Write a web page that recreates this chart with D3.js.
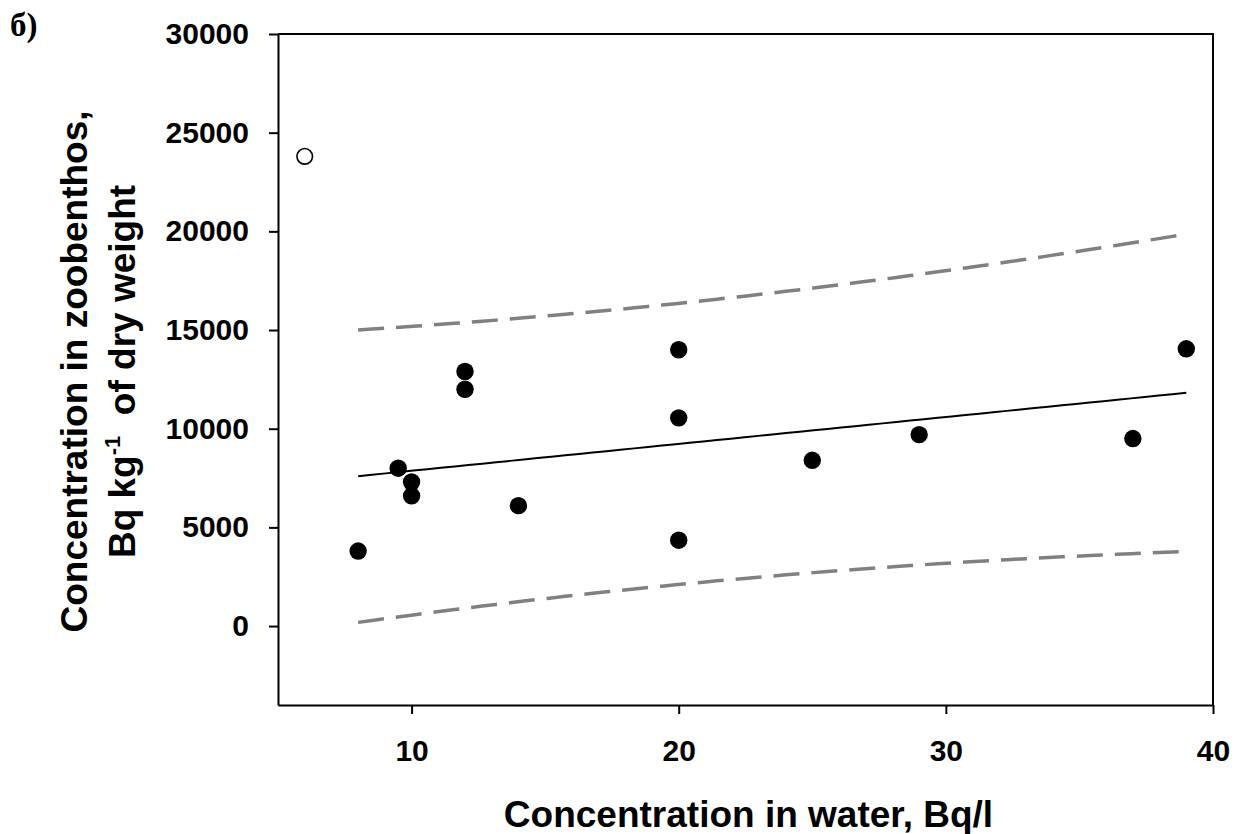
<!DOCTYPE html>
<html>
<head>
<meta charset="utf-8">
<script src="https://cdn.jsdelivr.net/npm/d3@7"></script>
<style>
  html, body { margin: 0; padding: 0; background: #fff; }
  svg { display: block; }
  .tick text { font-family: "Liberation Sans", Arial, sans-serif; font-weight: bold; font-size: 30px; fill: #000; }
</style>
</head>
<body>
<svg id="chart" width="1251" height="834"></svg>
<script>
// Concentration in water (Bq/l) vs. concentration in zoobenthos (Bq/kg dry weight)
const waterConc   = [8, 9.5, 10, 10, 12, 12, 14, 20, 20, 20, 25, 29, 37, 39];
const benthosConc = [3800, 8000, 7300, 6600, 12900, 12000, 6100, 14000, 10550, 4350, 8400, 9700, 9500, 14050];

// Point left out of the regression (open symbol)
const outlierWater   = [6];
const outlierBenthos = [23800];

const xTicks = [10, 20, 30, 40];
const yTicks = [0, 5000, 10000, 15000, 20000, 25000, 30000];

const svg = d3.select("#chart");
const plotLeft = 278, plotRight = 1213, plotTop = 34, plotBottom = 705;

const x = d3.scaleLinear().domain([5, 40]).range([plotLeft, plotRight]);
const y = d3.scaleLinear().domain([-4000, 30000]).range([plotBottom, plotTop]);

// Linear regression with 95% prediction band
const n = waterConc.length;
const mx = d3.mean(waterConc), my = d3.mean(benthosConc);
let sxx = 0, sxy = 0, syy = 0;
for (let i = 0; i < n; i++) {
  const dx = waterConc[i] - mx, dy = benthosConc[i] - my;
  sxx += dx * dx; sxy += dx * dy; syy += dy * dy;
}
const slope = sxy / sxx;
const intercept = my - slope * mx;
const s = Math.sqrt((syy - slope * sxy) / (n - 2));
const tCrit = 2.179; // Student t, 0.975 quantile, 12 degrees of freedom
const xMin = d3.min(waterConc), xMax = d3.max(waterConc);
const xs = d3.range(0, 61).map(i => xMin + (xMax - xMin) * i / 60);
const fit = xs.map(v => ({ x: v, y: intercept + slope * v }));
const halfWidth = v => tCrit * s * Math.sqrt(1 + 1 / n + (v - mx) * (v - mx) / sxx);
const upper = xs.map(v => ({ x: v, y: intercept + slope * v + halfWidth(v) }));
const lower = xs.map(v => ({ x: v, y: intercept + slope * v - halfWidth(v) }));

const line = d3.line().x(d => x(d.x)).y(d => y(d.y));

// Frame (top and right)
svg.append("path")
  .attr("d", `M${plotLeft},${plotTop}H${plotRight}V${plotBottom}`)
  .attr("fill", "none").attr("stroke", "#000").attr("stroke-width", 2);

// Axes
const xAxis = svg.append("g").attr("transform", `translate(0,${plotBottom})`)
  .call(d3.axisBottom(x).tickValues(xTicks).tickSize(9).tickSizeOuter(0).tickPadding(26).tickFormat(d3.format("d")));
const yAxis = svg.append("g").attr("transform", `translate(${plotLeft},0)`)
  .call(d3.axisLeft(y).tickValues(yTicks).tickSize(9).tickSizeOuter(0).tickPadding(20).tickFormat(d3.format("d")));
[xAxis, yAxis].forEach(g => {
  g.select(".domain").attr("stroke", "#000").attr("stroke-width", 2);
  g.selectAll(".tick line").attr("stroke", "#000").attr("stroke-width", 2);
});

// Prediction band
[upper, lower].forEach(band => {
  svg.append("path").datum(band).attr("d", line)
    .attr("fill", "none").attr("stroke", "#808080")
    .attr("stroke-width", 3.5).attr("stroke-dasharray", "26,12");
});

// Regression line
svg.append("path").datum(fit).attr("d", line)
  .attr("fill", "none").attr("stroke", "#000").attr("stroke-width", 2);

// Data points
svg.append("g").selectAll("circle")
  .data(waterConc.map((v, i) => [v, benthosConc[i]]))
  .join("circle")
  .attr("cx", d => x(d[0])).attr("cy", d => y(d[1])).attr("r", 8.7)
  .attr("fill", "#000");

svg.append("g").selectAll("circle")
  .data(outlierWater.map((v, i) => [v, outlierBenthos[i]]))
  .join("circle")
  .attr("cx", d => x(d[0])).attr("cy", d => y(d[1])).attr("r", 7.8)
  .attr("fill", "#fff").attr("stroke", "#000").attr("stroke-width", 1.6);

// Axis titles
const titleFont = "'Liberation Sans', Arial, sans-serif";
svg.append("text")
  .attr("x", (plotLeft + plotRight) / 2 + 3).attr("y", 827)
  .attr("text-anchor", "middle")
  .attr("font-family", titleFont).attr("font-weight", "bold").attr("font-size", 37)
  .text("Concentration in water, Bq/l");

const yTitle = svg.append("g").attr("transform", `translate(0,${(plotTop + plotBottom) / 2 + 2}) rotate(-90)`);
yTitle.append("text")
  .attr("x", 0).attr("y", 87)
  .attr("text-anchor", "middle")
  .attr("font-family", titleFont).attr("font-weight", "bold").attr("font-size", 37)
  .text("Concentration in zoobenthos,");
const t2 = yTitle.append("text")
  .attr("x", 0).attr("y", 135)
  .attr("text-anchor", "middle")
  .attr("font-family", titleFont).attr("font-weight", "bold").attr("font-size", 37);
t2.append("tspan").text("Bq kg");
t2.append("tspan").attr("font-size", 22).attr("dy", -15).text("-1");
t2.append("tspan").attr("dy", 15).text("\u00a0 of dry weight");

// Panel label
svg.append("text")
  .attr("x", 10).attr("y", 36)
  .attr("font-family", "'Liberation Serif', 'Times New Roman', serif")
  .attr("font-weight", "bold").attr("font-size", 33)
  .text("б)");
</script>
</body>
</html>
